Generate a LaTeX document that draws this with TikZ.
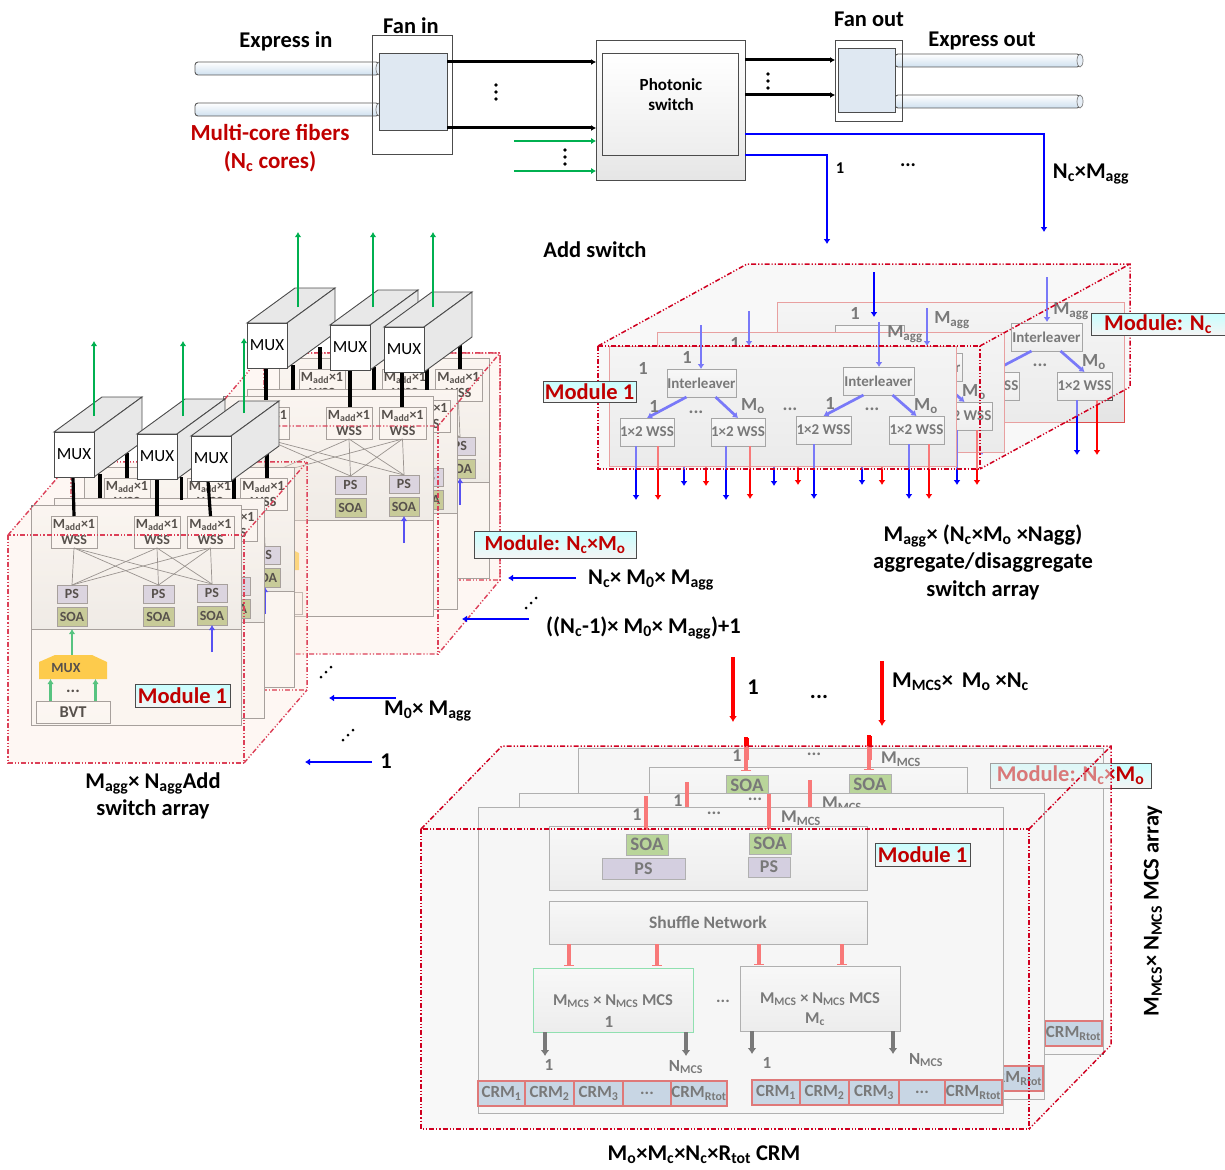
\documentclass[tikz,border=0pt]{standalone}
\usepackage{fontspec}
\setmainfont{Carlito}
\usetikzlibrary{arrows.meta}
\definecolor{mred}{HTML}{C00000}
\definecolor{dashred}{HTML}{D00020}
\definecolor{mygreen}{HTML}{00B050}
\definecolor{peach}{HTML}{FBE9DC}
\newcount\cn
\newcommand\fz[2]{\fontsize{#1}{#2}\selectfont\bfseries}
\newcommand\sbs[1]{\textsubscript{#1}}
\newcommand\mybx[7]{\pgfmathsetmacro\wpx{#5-#3}\pgfmathsetmacro\hpx{#6-#4}\pgfmathsetmacro\cxx{(#3+#5)/2}\pgfmathsetmacro\cyy{(#4+#6)/2}%
 \node[#1,minimum width=\wpx pt,minimum height=\hpx pt,inner sep=0pt,outer sep=0pt,align=center] (#2) at (\cxx,\cyy) {#7};}
\newcommand\mytx[4]{\global\advance\cn by 1 \node[#1,inner sep=0pt,align=center] (t\the\cn) at (#2,#3) {#4};}
\newcommand\conn[3]{\global\advance\cn by 1 \coordinate (c\the\cn a) at (#2); \coordinate (c\the\cn b) at (#3); \draw[#1] (c\the\cn a) -- (c\the\cn b);}
\newcommand\vdotsat[2]{\fill (#1,#2-7) circle (1.8); \fill (#1,#2) circle (1.8); \fill (#1,#2+7) circle (1.8);}
\newcommand\ddotsat[2]{\fill (#1-5,#2+5) circle (1.5); \fill (#1,#2) circle (1.5); \fill (#1+5,#2-5) circle (1.5);}
\newcommand\fiber[4]{\path[draw=black!65,line width=.9pt,top color=white,bottom color=fibb,rounded corners=3pt] (#1,#3) rectangle (#2,#4);
 \pgfmathsetmacro\ymid{(#3+#4)/2}\pgfmathsetmacro\yr{(#4-#3)/2}\draw[black!50,line width=.7pt,fill=fibb!50] (#2,\ymid) ellipse (3 and \yr);}
\newcommand\muxbox[3]{%
 \pgfmathsetmacro\xr{#2+40}\pgfmathsetmacro\yb{#3+45}\pgfmathsetmacro\xd{#2+88}\pgfmathsetmacro\xe{#2+48}\pgfmathsetmacro\yt{#3-35}\pgfmathsetmacro\ybb{#3+10}%
 \draw[muxl,fill=black!9] (#2,#3) -- (\xe,\yt) -- (\xd,\yt) -- (\xr,#3) -- cycle;
 \draw[muxl,fill=black!9] (\xr,#3) -- (\xd,\yt) -- (\xd,\ybb) -- (\xr,\yb) -- cycle;
 \mybx{muxl,fill=white,font=\fontsize{17}{18}\selectfont}{#1}{#2}{#3}{\xr}{\yb}{MUX}}
% left module
\newcommand\addmod[3]{\begin{scope}[shift={(#2,#3)}]
 \mybx{draw=amb,fill=amf,line width=.9pt}{#1m}{31}{505}{241}{725}{}
 \mybx{draw=amb,top color=amf,bottom color=apf,line width=.9pt}{#1p}{31}{505}{241}{629}{}
 \mybx{abox,font=\fz{14}{16}}{#1w1}{51}{516}{97}{548}{M\sbs{add}×1\\WSS}
 \mybx{abox,font=\fz{14}{16}}{#1w2}{134}{516}{180}{548}{M\sbs{add}×1\\WSS}
 \mybx{abox,font=\fz{14}{16}}{#1w3}{187}{516}{234}{548}{M\sbs{add}×1\\WSS}
 \mybx{abox,fill=apsc,font=\fz{14}{15}}{#1ps1}{57}{585}{87}{603}{PS}
 \mybx{abox,fill=apsc,font=\fz{14}{15}}{#1ps2}{143}{585}{174}{603}{PS}
 \mybx{abox,fill=apsc,font=\fz{14}{15}}{#1ps3}{197}{584}{227}{602}{PS}
 \mybx{abox,fill=asoa,font=\fz{14}{15}}{#1s1}{57}{607}{87}{626}{SOA}
 \mybx{abox,fill=asoa,font=\fz{14}{15}}{#1s2}{143}{607}{174}{626}{SOA}
 \mybx{abox,fill=asoa,font=\fz{14}{15}}{#1s3}{197}{606}{227}{625}{SOA}
 \foreach \a in {1,2,3}{\foreach \b in {1,2,3}{\draw[black!60,line width=.7pt] (#1w\a.south) -- (#1ps\b.north);}}
 \conn{bluep}{212,652}{212,625}
 \draw[draw=none,fill=amuxc] (39,662) -- (55,655) coordinate (#1mt) -- (92,655) -- (107,662) -- (107,679) -- (39,679) -- cycle;
 \mytx{font=\fz{14}{15}}{66}{668}{MUX}
 \conn{greenp}{72,655}{72,629}
 \mybx{abox,top color=white,bottom color=amf,font=\fz{16.5}{17}}{#1bvt}{36}{701}{110}{723}{BVT}
 \conn{greenp}{50.5,701}{50.5,679}
 \conn{greenp}{95.5,701}{95.5,679}
 \mytx{font=\fz{17}{17}}{73}{691}{...}
\end{scope}}
% right module
\newcommand\rmod[4]{\begin{scope}[shift={(#2,#3)}]
 \mybx{draw=rmb,top color=rmf,bottom color=rmf!92!black,line width=1pt}{#1m}{609}{346}{956}{466}{}
 \mybx{rbox}{#1i1}{667}{369}{736}{397}{Interleaver}
 \mybx{rbox}{#1i2}{843}{367}{914}{395}{Interleaver}
 \mybx{rbox}{#1w1}{620}{418}{674}{446}{1×2 WSS}
 \mybx{rbox}{#1w2}{711}{418}{765}{446}{1×2 WSS}
 \mybx{rbox}{#1w3}{796}{416}{851}{444}{1×2 WSS}
 \mybx{rbox}{#1w4}{889}{416}{944}{444}{1×2 WSS}
 \draw[bluearr] (#1i1.223) -- (#1w1.north);
 \draw[bluearr] (#1i1.-45) -- (#1w2.north);
 \draw[bluearr] (#1i2.223) -- (#1w3.north);
 \draw[bluearr] (#1i2.-45) -- (#1w4.north);
 \conn{bluearr}{636,446}{636,500}\conn{redarr}{658,446}{658,500}
 \conn{bluearr}{726,446}{726,500}\conn{redarr}{750,446}{750,499}
 \conn{bluearr}{814,444}{814,499}#4
 \conn{bluearr}{909,444}{909,499}\conn{redarr}{929,444}{929,499}
 \mytx{rlab}{687}{357}{1}\mytx{rlab}{654}{406}{1}\mytx{rlab}{753}{406}{M\sbs{o}}\mytx{rlab}{696}{412}{...}
 \mytx{rlab}{830}{403}{1}\mytx{rlab}{926}{406}{M\sbs{o}}\mytx{rlab}{790}{409}{...}\mytx{rlab}{872}{409}{...}
\end{scope}}
% bottom module
\newcommand\botmod[3]{\begin{scope}[shift={(#2,#3)}]
 \mybx{draw=bmb,fill=bmf,line width=1pt}{#1m}{478}{807}{1003}{1113}{}
 \mybx{bbox}{#1p}{549}{826}{867}{890}{}
 \mybx{draw=bmb,fill=bsoa,line width=.9pt,font=\fz{19}{20}}{#1s1}{626}{834}{668}{855}{SOA}
 \mybx{draw=bmb,fill=bsoa,line width=.9pt,font=\fz{19}{20}}{#1s2}{749}{833}{791}{854}{SOA}
 \mybx{draw=bmb,fill=bps,line width=.9pt,font=\fz{18}{19}}{#1ps1}{602}{858}{685}{879}{PS}
 \mybx{draw=bmb,fill=bps,line width=.9pt,font=\fz{18}{19}}{#1ps2}{748}{857}{790}{877}{PS}
 \mybx{bbox,font=\fz{17.5}{19}}{#1sh}{549}{901}{867}{944}{Shuffle Network}
 \mybx{bbox,draw=bgr}{#1c1}{533}{968}{693}{1032}{}
 \mybx{bbox}{#1c2}{740}{966}{900}{1031}{}
 \mytx{font=\fz{16.5}{18}}{613}{1001}{M\sbs{MCS} × N\sbs{MCS} MCS}
 \mytx{font=\fz{16.5}{18}}{820}{999}{M\sbs{MCS} × N\sbs{MCS} MCS}
 \mytx{font=\fz{16.5}{18}}{815}{1019}{M\sbs{c}}
 \mytx{font=\fz{17}{18}}{609}{1022}{1}
 \mytx{font=\fz{17}{18}}{723}{1001}{...}
 \conn{pinkbar}{569,944}{569,966}\conn{pinkbar}{657,944}{657,966}\conn{pinkbar}{759,944}{759,965}\conn{pinkbar}{842,944}{842,965}
 \conn{grayarr}{545,1032}{545,1056}\conn{grayarr}{686,1032}{686,1056}\conn{grayarr}{752,1031}{752,1054}\conn{grayarr}{893,1031}{893,1054}
 \mytx{font=\fz{17}{18}}{549}{1065}{1}\mytx{font=\fz{17}{18}}{686}{1067}{N\sbs{MCS}}
 \mytx{font=\fz{17}{18}}{767}{1063}{1}\mytx{font=\fz{17}{18}}{926}{1060}{N\sbs{MCS}}
 \mybx{crm}{#1a1}{478}{1081}{525}{1106}{CRM\sbs{1}}
 \mybx{crm}{#1a2}{525}{1081}{574}{1106}{CRM\sbs{2}}
 \mybx{crm}{#1a3}{574}{1081}{623}{1106}{CRM\sbs{3}}
 \mybx{crm}{#1a4}{623}{1081}{671}{1106}{...}
 \mybx{crm}{#1a5}{671}{1081}{727}{1106}{CRM\sbs{Rtot}}
 \mybx{crm}{#1b1}{752}{1080}{800}{1105}{CRM\sbs{1}}
 \mybx{crm}{#1b2}{800}{1080}{849}{1105}{CRM\sbs{2}}
 \mybx{crm}{#1b3}{849}{1080}{899}{1105}{CRM\sbs{3}}
 \mybx{crm}{#1b4}{899}{1080}{945}{1105}{...}
 \mybx{crm}{#1b5}{945}{1080}{1002}{1105}{CRM\sbs{Rtot}}
 \conn{pinkbar}{646,796}{646,830}\conn{pinkbar}{769,794}{769,829}
 \mytx{font=\fz{18}{19}}{637}{815}{1}\mytx{font=\fz{18}{19}}{714}{813}{...}\mytx{font=\fz{18}{19}}{801}{818}{M\sbs{MCS}}
\end{scope}}
\colorlet{amb}{black!52}
\definecolor{fibb}{HTML}{CFE0EF}\definecolor{fan}{HTML}{DFE8F2}
\definecolor{amf}{HTML}{FBFCFC}\definecolor{apf}{HTML}{EAEDEC}\definecolor{apsc}{HTML}{CBC9E2}\definecolor{asoa}{HTML}{AEBC76}\definecolor{amuxc}{HTML}{FFBC00}
\definecolor{rmb}{HTML}{DE4E4E}\definecolor{rmf}{HTML}{F8F8F8}
\definecolor{bmb}{HTML}{6E6E6E}\definecolor{bmf}{HTML}{FCFCFC}\definecolor{bsoa}{HTML}{80B842}\definecolor{bps}{HTML}{B6ACCE}\definecolor{bcrm}{HTML}{9EBAD6}\definecolor{bgr}{HTML}{2ECE6E}
\tikzset{
 lab/.style={font=\fz{22.5}{24},text=black},
 redlab/.style={font=\fz{23}{28},text=mred},
 modlab/.style={draw=black!70,line width=1pt,top color=cyan!22,bottom color=black!4,text=mred,font=\fz{22.5}{24}},
 muxl/.style={draw=black!70,line width=.9pt},
 abox/.style={draw=amb,line width=.9pt,fill=amf},
 bluep/.style={blue,line width=2.4pt,-{Latex[length=5pt,width=6.5pt]}},
 greenp/.style={mygreen,line width=2.4pt,-{Latex[length=5pt,width=6.5pt]}},
 greenarr/.style={mygreen,line width=2.8pt,-{Latex[length=5pt,width=6.5pt]}},
 blackarr/.style={black,line width=3pt,-{Latex[length=5pt,width=6pt]}},
 blackln/.style={black,line width=3.2pt},
 bluearr/.style={blue,line width=2.7pt,-{Latex[length=5pt,width=7pt]}},
 redarr/.style={red,line width=2.7pt,-{Latex[length=5pt,width=7pt]}},
 topblue/.style={blue,line width=2.6pt,-{Latex[length=5pt,width=7pt]}},
 bigred/.style={red,line width=3.2pt,-{Latex[length=6pt,width=8pt]}},
 rbox/.style={draw=black!65,line width=1pt,top color=white,bottom color=black!8,font=\fz{15}{16}},
 rlab/.style={font=\fz{18.5}{19}},
 pinkbar/.style={red,line width=4.5pt,-{Bar[width=10pt,line width=1pt]}},
 grayarr/.style={black,line width=3.4pt,-{Latex[length=6pt,width=9pt]}},
 bbox/.style={draw=bmb,line width=1pt,top color=white,bottom color=black!9},
 crm/.style={draw=red!80!black,line width=1.3pt,fill=bcrm,font=\fz{17}{18}},
 ovr/.style={fill=black!5,fill opacity=.5},
 ovp/.style={fill=peach,fill opacity=.35},
 dashl/.style={dashred,line width=1.5pt,dash pattern=on 5pt off 2pt on 1.2pt off 2pt on 1.2pt off 2pt},
 dashp/.style={dashred!75,line width=1.4pt,dash pattern=on 5pt off 2pt on 1.2pt off 2pt on 1.2pt off 2pt},
}
\begin{document}
\begin{tikzpicture}[x=1pt,y=-1pt]
\useasboundingbox (0,0) rectangle (1225,1169);
% ===== top =====
\mytx{lab}{286}{41}{Express in}
\mytx{lab}{411}{26}{Fan in}
\mytx{lab}{869}{19}{Fan out}
\mytx{lab}{982}{41}{Express out}
\mytx{redlab}{270}{148}{Multi-core fibers\\(N\sbs{c} cores)}
\fiber{195}{379}{62}{75}
\fiber{195}{379}{103}{116}
\mybx{draw=black!70,line width=1pt}{fo}{372}{36}{452}{155}{}
\mybx{draw=black!70,fill=fan,line width=1pt}{fi}{379}{54}{447}{131}{}
\mybx{draw=black!70,top color=white,bottom color=black!10,line width=1pt}{ps}{596}{41}{745}{181}{}
\mybx{draw=black!70,top color=white,bottom color=black!7,line width=1pt}{psi}{602}{54}{738}{156}{}
\mytx{font=\fz{17}{20}}{671}{95}{Photonic\\ switch}
\coordinate (ps1) at (596,62); \coordinate (ps2) at (596,128); \coordinate (ps3) at (596,141); \coordinate (ps4) at (596,171);
\draw[blackarr] (fi.east |- ps1) -- (ps1);
\draw[blackarr] (fi.east |- ps2) -- (ps2);
\conn{greenarr,line width=2pt}{514,141}{ps3}
\conn{greenarr,line width=2pt}{514,171}{ps4}
\vdotsat{496}{92}
\vdotsat{565}{157}
\fiber{895}{1080}{54}{67}
\fiber{895}{1080}{95}{108}
\mybx{draw=black!70,line width=1pt}{foo}{835}{41}{902}{122}{}
\mybx{draw=black!70,fill=fan,line width=1pt}{fio}{838}{49}{895}{113}{}
\coordinate (o1) at (745,60); \coordinate (o2) at (745,95);
\draw[blackarr] (o1) -- (foo.west |- o1);
\draw[blackarr] (o2) -- (foo.west |- o2);
\vdotsat{768}{81}
\coordinate (b1) at (745,134); \coordinate (b1c) at (1044,134); \coordinate (b1e) at (1044,232);
\coordinate (b2) at (745,155); \coordinate (b2c) at (827,155); \coordinate (b2e) at (827,244);
\draw[topblue] (b1) -- (b1c) -- (b1e);
\draw[topblue] (b2) -- (b2c) -- (b2e);
\mytx{font=\fz{16.5}{18}}{840}{168}{1}
\mytx{font=\fz{20}{18}}{908}{165}{...}
\mytx{lab}{1091}{174}{N\sbs{c}×M\sbs{agg}}
\mytx{lab}{595}{250}{Add switch}
% ===== right block =====
\rmod{rc}{168}{-44}{}
\conn{bluearr}{1047,277}{1047,322}
\mytx{rlab}{952}{320}{M\sbs{agg}}
\mytx{rlab}{1071}{311}{M\sbs{agg}}
\rmod{rb}{48}{-14}{\conn{redarr}{834,444}{834,499}}
\conn{bluearr}{749,311}{749,346}
\conn{bluearr}{927,308}{927,346}
\mytx{rlab}{905}{334}{M\sbs{agg}}
\rmod{ra}{0}{0}{}
\conn{bluearr}{701,325}{701,369}
\conn{bluearr}{879,322}{879,367}
\mytx{rlab}{643}{368}{1}
\fill[ovr] (598,346) -- (747,264) -- (1130,264) -- (1130,387) -- (980,469) -- (598,469) -- cycle;
\conn{bluearr}{874,272}{874,317}
\draw[dashl] (598,346) rectangle (980,469);
\draw[dashl] (598,346) -- (747,264) -- (1130,264) -- (1130,387) -- (980,469);
\draw[dashl] (980,346) -- (1130,264);
\mybx{modlab}{rm1}{543}{381}{636}{402}{Module 1}
\mybx{modlab}{rmn}{1091}{313}{1225}{335}{Module: N\sbs{c}}
\mytx{lab,font=\fz{22.5}{27.5}}{983}{562}{M\sbs{agg}× (N\sbs{c}×M\sbs{o} ×Nagg)\\aggregate/disaggregate\\switch array}
% ===== left block =====
\draw[dashp] (264,353) rectangle (500,580);
\addmod{m6}{248}{-147}
\addmod{m5}{216}{-116}
\addmod{m4}{192}{-109}
\fill[ovp] (202,426) -- (264,353) -- (500,353) -- (500,580) -- (438,654) -- (202,654) -- cycle;
\draw[dashp] (264,353) -- (500,353) -- (500,580) -- (438,654) -- (202,654) -- (202,426) -- (264,353);
\draw[dashp] (202,426) -- (438,426) -- (500,353);
\draw[dashp] (438,426) -- (438,654);
\draw[dashp] (71,462) rectangle (307,690);
\addmod{m3}{53}{-38}
\addmod{m2}{23}{-7}
\addmod{m1}{0}{0}
\fill[ovp] (8,535) -- (71,462) -- (307,462) -- (307,690) -- (244,763) -- (8,763) -- cycle;
\draw[dashp] (8,535) rectangle (244,763);
\draw[dashp] (8,535) -- (71,462);
\draw[dashp] (244,535) -- (307,462);
\draw[dashp] (244,763) -- (307,690);
% upper MUX group
\conn{blackln}{266,368}{266,400}\conn{blackln}{293,365}{293,390}\conn{blackln}{320,347}{320,369}
\conn{blackln}{350,370}{350,407}\conn{blackln}{374,367}{374,390}
\conn{blackln}{402,371}{402,407}\conn{blackln}{427,369}{427,390}\conn{blackln}{460,345}{460,369}
\muxbox{mu1}{247}{323}
\muxbox{mu2}{330}{325}
\muxbox{mu3}{384}{327}
\conn{greenarr}{298,307}{298,232}\conn{greenarr}{373,307}{373,232}\conn{greenarr}{433,307}{433,232}
% lower MUX group
\coordinate (lm1) at (73,477);\coordinate (lm2) at (157,479);\coordinate (lm3) at (208,481);
\draw[blackln] (m1w1.north) -- (lm1);
\draw[blackln] (m1w2.north) -- (lm2);
\draw[blackln] (m1w3.north) -- (lm3);
\conn{blackln}{100,474}{100,498}\conn{blackln}{127,453}{127,478}
\conn{blackln}{181.5,477}{181.5,500}\conn{blackln}{234,476}{234,499}\conn{blackln}{267,453}{267,478}
\muxbox{ml1}{54}{432}
\muxbox{ml2}{137}{434}
\muxbox{ml3}{191}{436}
\conn{greenarr}{94,416}{94,341}\conn{greenarr}{183,416}{183,341}\conn{greenarr}{244,413}{244,338}
\mybx{modlab}{lmod1}{135}{684}{230}{707}{Module 1}
\mybx{modlab,font=\fz{21.5}{24}}{lmodn}{474}{531}{636}{558}{Module: N\sbs{c}×M\sbs{o}}
\conn{topblue}{576,578}{508,578}
\conn{topblue}{529,619}{462,619}
\conn{topblue}{396,698}{329,698}
\conn{topblue}{372,762}{305,762}
\mytx{lab,anchor=west}{588}{580}{N\sbs{c}× M\sbs{0}× M\sbs{agg}}
\mytx{lab,anchor=west}{546}{628}{((N\sbs{c}-1)× M\sbs{0}× M\sbs{agg})+1}
\mytx{lab,anchor=west}{384}{711}{M\sbs{0}× M\sbs{agg}}
\mytx{lab}{386}{761}{1}
\ddotsat{531}{603}\ddotsat{326}{672}\ddotsat{348}{735}
\mytx{lab,font=\fz{22.5}{27.5}}{153}{796}{M\sbs{agg}× N\sbs{agg}Add\\switch array}
% ===== bottom block =====
\conn{bigred}{733,657}{733,722}
\conn{bigred}{882,661}{882,726}
\mytx{lab}{753}{687}{1}
\mytx{lab}{819}{697}{...}
\mytx{lab,anchor=west}{892}{682}{M\sbs{MCS}×\, M\sbs{o} ×N\sbs{c}}
\botmod{bc}{100}{-59}
\conn{red,line width=3.5pt}{747,738}{747,760}
\conn{red,line width=3.5pt}{870,736}{870,760}
\botmod{bb}{41}{-14}
\botmod{ba}{0}{0}
\mybx{modlab}{bmn}{990}{763}{1151}{788}{Module: N\sbs{c}×M\sbs{o}}
\fill[ovr] (421,829) -- (502,746) -- (1111,746) -- (1111,1045) -- (1029,1129) -- (421,1129) -- cycle;
\draw[dashl] (421,829) rectangle (1029,1129);
\draw[dashl] (421,829) -- (502,746) -- (1111,746) -- (1111,1045) -- (1029,1129);
\draw[dashl] (1029,829) -- (1111,746);
\mybx{modlab}{bm1}{875}{843}{970}{866}{Module 1}
\mytx{lab}{704}{1155}{M\sbs{o}×M\sbs{c}×N\sbs{c}×R\sbs{tot} CRM}
\mytx{lab,rotate=90}{1153}{911}{M\sbs{MCS}× N\sbs{MCS} MCS array}
\end{tikzpicture}
\end{document}
